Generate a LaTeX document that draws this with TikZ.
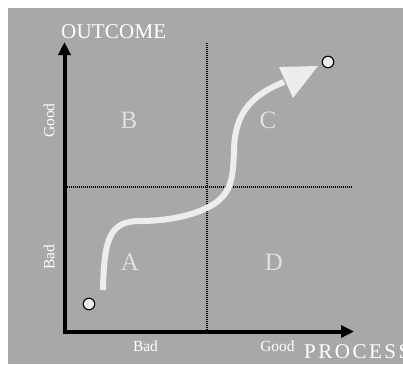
\documentclass[tikz,border=0pt]{standalone}
\usepackage{fontspec}
\setmainfont{Liberation Serif}
\usetikzlibrary{arrows.meta}
\definecolor{bg}{HTML}{A8A8A8}
\definecolor{lite}{HTML}{EDEDED}
\definecolor{letter}{HTML}{E0E0E0}
\begin{document}
\begin{tikzpicture}[x=1pt,y=-1pt,
  axis/.style={line width=4pt,black,{Triangle[length=13pt,width=12pt]}-{Triangle[length=13pt,width=12pt]}},
  dotline/.style={line width=1.2pt,black,dash pattern=on 1.2pt off 0.8pt},
  bigtitle/.style={text=white,font=\fontsize{21}{23}\selectfont,inner sep=0pt},
  small/.style={text=white,font=\fontsize{15.5}{17}\selectfont,inner sep=0pt},
  quad/.style={text=letter,font=\fontsize{25}{27}\selectfont,inner sep=0pt},
  dot/.style={circle,draw=black,line width=1.1pt,fill=lite,inner sep=0pt,minimum size=11.5pt},
  path/.style={line width=6pt,lite}
]
\useasboundingbox (0,0) rectangle (403,364);
\fill[white] (0,0) rectangle (403,364);
\fill[bg] (8,8) rectangle (403,364);
% dotted quadrant lines
\coordinate (vt) at (207,43);
\coordinate (vb) at (207,332);
\coordinate (hl) at (65,187);
\coordinate (hr) at (352,187);
\draw[dotline] (vt) -- (vb);
\draw[dotline] (hl) -- (hr);
% axes
\coordinate (ytip) at (64.5,42);
\coordinate (orig) at (64.5,331.5);
\coordinate (xtip) at (354,331.5);
\draw[axis] (ytip) -- (orig) -- (xtip);
% labels
\node[bigtitle,anchor=base west,font=\fontsize{21}{23}\selectfont\addfontfeature{LetterSpace=1}] (outcome) at (61,38) {OUTCOME};
\node[bigtitle,anchor=base west,font=\fontsize{21}{23}\selectfont\addfontfeature{LetterSpace=12}] (process) at (304,358) {PROCESS};
\node[small,anchor=base] (xbad) at (145.5,351) {Bad};
\node[small,anchor=base] (xgood) at (277.5,351) {Good};
\node[small,rotate=90] (ygood) at (49,120.5) {Good};
\node[small,rotate=90] (ybad) at (49,257) {Bad};
\node[quad] (qa) at (130,262.5) {A};
\node[quad] (qb) at (129,120) {B};
\node[quad] (qc) at (268,120) {C};
\node[quad] (qd) at (274,262.5) {D};
% path curve
\draw[path] (103,290) .. controls (104,238) and (110,221) .. (140,221)
  .. controls (172,221) and (198,214) .. (214,204)
  .. controls (231,192) and (233,180) .. (234,150)
  .. controls (235,112) and (252,95) .. (284,82);
\fill[lite] (318,66) -- (279,67) -- (293,98) -- cycle;
% dots
\node[dot] (start) at (89,304) {};
\node[dot] (end) at (328,62) {};
\end{tikzpicture}
\end{document}
